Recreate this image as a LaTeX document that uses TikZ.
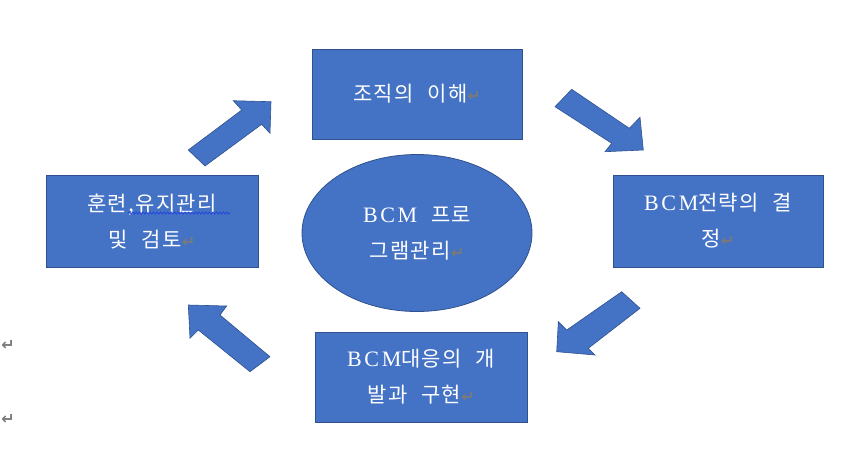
\documentclass[tikz,border=0pt]{standalone}
\usepackage{fontspec}
\setmainfont{Liberation Serif}
\newfontfamily\kr[WordSpace=2.3,LetterSpace=6]{Noto Sans CJK KR}
\newfontfamily\bcmfont[LetterSpace=12]{Liberation Serif}
\newfontfamily\dvs{DejaVu Sans Bold}
\usetikzlibrary{shapes.geometric,decorations.pathmorphing}
\definecolor{officeblue}{HTML}{4472C4}
\definecolor{officeedge}{HTML}{2F528F}
\definecolor{retgray}{HTML}{7A7A7A}
\definecolor{spellblue}{HTML}{1F3FE0}
\newcommand\pmark{{\color{retgray}\dvs\fontsize{16}{16}\selectfont ↵}}
\newcommand\bcm{{\bcmfont\fontsize{22}{36}\selectfont BCM}}
\begin{document}
\begin{tikzpicture}[x=1pt,y=-1pt,
  box/.style={draw=officeedge, line width=0.8pt, fill=officeblue, text=white,
    inner sep=0pt, align=center, font=\kr\fontsize{21}{36}\selectfont},
  rectbox/.style={box, rectangle},
  ovalbox/.style={box, ellipse},
  blockarrow/.style={fill=officeblue, draw=officeedge, line width=0.6pt, line join=miter},
  wavy/.style={draw=spellblue, line width=0.6pt, decorate,
    decoration={snake, amplitude=1.2pt, segment length=3.5pt}},
  stray/.style={inner sep=0pt}]
\useasboundingbox (0,0) rectangle (858,456);

\node[rectbox, minimum width=210pt, minimum height=90pt] (top) at (417,94)
  {조직의 이해\pmark};
\node[rectbox, minimum width=212pt, minimum height=92pt] (left) at (152,221)
  {훈련,유지관리\\및 검토\pmark};
\node[rectbox, minimum width=210pt, minimum height=92pt] (right) at (718,221)
  {\bcm 전략의 결\\정\pmark};
\node[rectbox, minimum width=212pt, minimum height=90pt] (bottom) at (421,377)
  {\bcm 대응의 개\\발과 구현\pmark};
\node[ovalbox, minimum width=230pt, minimum height=157pt] (center) at (417,233)
  {\bcm{} 프로\\그램관리\pmark};

% block arrows
\draw[blockarrow] (271,101.7) -- (233.3,100.7) -- (241.7,110) -- (188.3,150)
  -- (205,166) -- (261.7,124.3) -- (270,133.3) -- cycle;
\draw[blockarrow] (571.7,89.3) -- (629.3,128.3) -- (640,117.3) -- (643.3,150)
  -- (605,151.7) -- (611.7,143.3) -- (555,106.7) -- cycle;
\draw[blockarrow] (621.7,291.7) -- (640,308.3) -- (588.3,348.3) -- (595,355)
  -- (556.7,351.7) -- (558.3,321.7) -- (566.7,330) -- cycle;
\draw[blockarrow] (188.3,305) -- (226.7,306) -- (220,315) -- (270,356.7)
  -- (250,371.7) -- (198.3,330) -- (190,338.3) -- cycle;

% spell-check underline
\draw[wavy] (128,213) -- (230,213);

% stray paragraph marks
\node[stray] (p1) at (8,345) {\pmark};
\node[stray] (p2) at (8,419) {\pmark};
\end{tikzpicture}
\end{document}
